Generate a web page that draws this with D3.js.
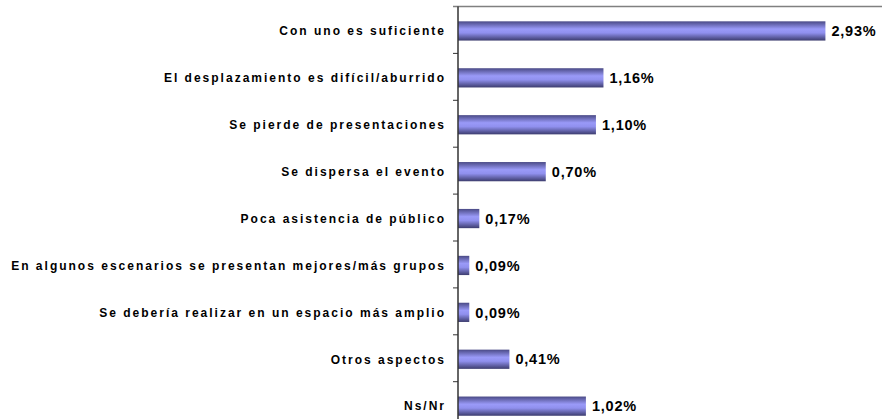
<!DOCTYPE html>
<html>
<head>
<meta charset="utf-8">
<script src="https://cdn.jsdelivr.net/npm/d3@7"></script>
<style>
  body { margin: 0; background: #fff; }
  svg { display: block; }
</style>
</head>
<body>
<svg id="chart"></svg>
<script>
// categories, top to bottom
const categories = [
  "Con uno es suficiente",
  "El desplazamiento es difícil/aburrido",
  "Se pierde de presentaciones",
  "Se dispersa el evento",
  "Poca asistencia de público",
  "En algunos escenarios se presentan mejores/más grupos",
  "Se debería realizar en un espacio más amplio",
  "Otros aspectos",
  "Ns/Nr"
];
// percentages
const values = [2.93, 1.16, 1.10, 0.70, 0.17, 0.09, 0.09, 0.41, 1.02];
const valueLabels = ["2,93%", "1,16%", "1,10%", "0,70%", "0,17%", "0,09%", "0,09%", "0,41%", "1,02%"];

const svgWidth = 882;
const svgHeight = 419;
const axisX = 458;
const plotTop = 6.5;
const step = 46.9;

const svg = d3.select("#chart")
  .attr("width", svgWidth)
  .attr("height", svgHeight);

// gradient for the bars (dark edges, light middle)
const grad = svg.append("defs").append("linearGradient")
  .attr("id", "barGrad")
  .attr("x1", 0).attr("y1", 0).attr("x2", 0).attr("y2", 1);
grad.append("stop").attr("offset", "0%").attr("stop-color", "#4a4a86");
grad.append("stop").attr("offset", "40%").attr("stop-color", "#9a9af8");
grad.append("stop").attr("offset", "60%").attr("stop-color", "#9090ee");
grad.append("stop").attr("offset", "100%").attr("stop-color", "#3c3c6e");

// scales
const xScale = d3.scaleLinear()
  .domain([0, 3])
  .range([axisX, axisX + 3 * 125.4]);

const yScale = d3.scaleBand()
  .domain(categories)
  .range([plotTop, plotTop + step * categories.length])
  .paddingInner(0.59)
  .paddingOuter(0.295);

// top border line
svg.append("line")
  .attr("x1", 453).attr("x2", svgWidth)
  .attr("y1", plotTop).attr("y2", plotTop)
  .attr("stroke", "#808080")
  .attr("stroke-width", 1.5);

// bars
svg.selectAll("rect.bar")
  .data(categories)
  .enter().append("rect")
  .attr("class", "bar")
  .attr("x", xScale(0))
  .attr("y", d => yScale(d) + 1)
  .attr("width", (d, i) => xScale(values[i]) - xScale(0))
  .attr("height", yScale.bandwidth())
  .attr("fill", "url(#barGrad)");

// y axis line and ticks at band boundaries
svg.append("line")
  .attr("x1", axisX).attr("x2", axisX)
  .attr("y1", plotTop).attr("y2", plotTop + step * categories.length)
  .attr("stroke", "#333")
  .attr("stroke-width", 1.5);

svg.selectAll("line.tick")
  .data(d3.range(1, categories.length + 1))
  .enter().append("line")
  .attr("class", "tick")
  .attr("x1", axisX - 5).attr("x2", axisX)
  .attr("y1", i => plotTop + i * step)
  .attr("y2", i => plotTop + i * step)
  .attr("stroke", "#333")
  .attr("stroke-width", 1);

// category labels
svg.selectAll("text.cat")
  .data(categories)
  .enter().append("text")
  .attr("class", "cat")
  .attr("x", 446)
  .attr("y", d => yScale(d) + 1 + yScale.bandwidth() / 2)
  .attr("dy", "0.36em")
  .attr("text-anchor", "end")
  .style("font-family", "'Liberation Sans', Arial, sans-serif")
  .style("font-weight", "bold")
  .style("font-size", "12px")
  .style("letter-spacing", "2px")
  .attr("fill", "#000")
  .text(d => d);

// value labels
svg.selectAll("text.val")
  .data(categories)
  .enter().append("text")
  .attr("class", "val")
  .attr("x", (d, i) => xScale(values[i]) + 6)
  .attr("y", d => yScale(d) + 1 + yScale.bandwidth() / 2)
  .attr("dy", "0.36em")
  .style("font-family", "'Liberation Sans', Arial, sans-serif")
  .style("font-weight", "bold")
  .style("font-size", "14.5px")
  .style("letter-spacing", "0.8px")
  .attr("fill", "#000")
  .text((d, i) => valueLabels[i]);
</script>
</body>
</html>
